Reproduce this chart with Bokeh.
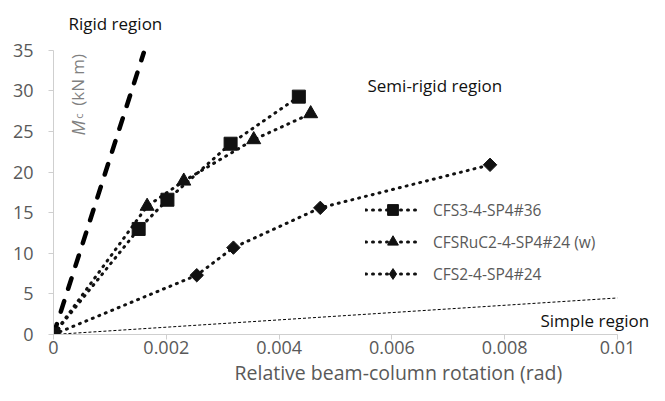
import math
from bokeh.plotting import figure
from bokeh.models import (Label, Legend, LegendItem, CustomJSTickFormatter,
                          Range1d, FixedTicker, Title)
from bokeh.embed import file_html
from bokeh.resources import INLINE

FONT = "Open Sans"

# ---- data ----
series_names = ["CFS3-4-SP4#36", "CFSRuC2-4-SP4#24 (w)", "CFS2-4-SP4#24"]

cfs3_x = [0.0, 0.00151, 0.00202, 0.00314, 0.00435]
cfs3_y = [0.0, 13.0, 16.6, 23.5, 29.3]

cfsruc_x = [0.0, 0.00166, 0.00231, 0.00355, 0.00456]
cfsruc_y = [0.0, 15.8, 18.9, 24.0, 27.2]

cfs2_x = [0.0, 0.00254, 0.00319, 0.00473, 0.00774]
cfs2_y = [0.0, 7.3, 10.7, 15.6, 20.9]

rigid_x = [0.0, 0.0016]
rigid_y = [0.0, 34.7]

simple_x = [0.0, 0.01]
simple_y = [0.0, 4.5]

x_ticks = [0, 0.002, 0.004, 0.006, 0.008, 0.01]
y_ticks = [0, 5, 10, 15, 20, 25, 30, 35]

region_texts = ["Rigid region", "Semi-rigid region", "Simple region"]
x_title = "Relative beam-column rotation (rad)"

# ---- layout (pixels) ----
W, H = 649, 385
LEFT = 53            # frame left
BOTTOM_PX = 335      # pixel row of y = 0
TOP35_PX = 50        # pixel row of y = 35
X01_PX = 617         # pixel column of x = 0.01

x_end = 0.01 * (W - LEFT) / (X01_PX - LEFT)
y_end = 35.0 * BOTTOM_PX / (BOTTOM_PX - TOP35_PX)

p = figure(width=W, height=H, output_backend="svg", toolbar_location=None,
           x_range=Range1d(0, x_end), y_range=Range1d(0, y_end),
           min_border_left=LEFT, min_border_right=0, min_border_top=0,
           min_border_bottom=H - BOTTOM_PX)
p.outline_line_color = None
p.xgrid.visible = False
p.ygrid.visible = False
p.background_fill_color = "white"
p.border_fill_color = "white"

AX = "#cfcfcf"
TXT = "#595959"
for ax in (p.xaxis[0], p.yaxis[0]):
    ax.axis_line_color = AX
    ax.major_tick_line_color = AX
    ax.minor_tick_line_color = None
    ax.major_tick_in = 0
    ax.major_tick_out = 5
    ax.major_label_text_font = FONT
    ax.major_label_text_font_size = "18px"
    ax.major_label_text_color = TXT

p.xaxis.ticker = FixedTicker(ticks=x_ticks)
p.yaxis.ticker = FixedTicker(ticks=y_ticks)
p.xaxis.bounds = (0, 0.01)
p.yaxis.bounds = (0, 35)
p.xaxis.formatter = CustomJSTickFormatter(
    code="return tick === 0 ? '0' : String(parseFloat(tick.toFixed(3)));")
p.xaxis.major_label_standoff = 1
p.yaxis.major_label_standoff = 15

# x-axis title as a title below the axis
p.add_layout(Title(text=x_title, align="left", offset=181, standoff=0,
                   text_font=FONT, text_font_size="19.5px", text_color=TXT,
                   text_font_style="normal", vertical_align="bottom"), "below")

# reference lines
p.line(simple_x, simple_y, line_color="black", line_width=1, line_dash="3 2")
p.line(rigid_x, rigid_y, line_color="black", line_width=4.5, line_dash="11 13",
       line_cap="round")

DOT = dict(line_color="#111111", line_width=3, line_dash="1 6", line_cap="round")
MK = "#111111"

l1 = p.line(cfs3_x, cfs3_y, **DOT)
l2 = p.line(cfsruc_x, cfsruc_y, **DOT)
l3 = p.line(cfs2_x, cfs2_y, **DOT)
s1 = p.scatter(cfs3_x, cfs3_y, marker="square", size=13, fill_color=MK, line_color=MK)
s2 = p.scatter(cfsruc_x, cfsruc_y, marker="triangle", size=14, fill_color=MK, line_color=MK)
# diamond glyph used for the legend symbol (hidden under the rotated squares)
s3_leg = p.scatter(cfs2_x, cfs2_y, marker="diamond", size=10, fill_color=MK, line_color=MK)
s3 = p.scatter(cfs2_x, cfs2_y, marker="square", angle=math.pi / 4, size=9.5,
               fill_color=MK, line_color=MK)

legend = Legend(items=[LegendItem(label=series_names[0], renderers=[l1, s1]),
                       LegendItem(label=series_names[1], renderers=[l2, s2]),
                       LegendItem(label=series_names[2], renderers=[l3, s3_leg])],
                location=(312, 47), orientation="vertical",
                padding=0, margin=0, spacing=5,
                glyph_width=55, glyph_height=27, label_height=27,
                label_standoff=13,
                label_text_font=FONT, label_text_font_size="15.5px",
                label_text_color=TXT,
                border_line_color=None, background_fill_alpha=0)
p.add_layout(legend)

# ---- positions of texts, in the chart's data units ----
def dx(px):
    return (px - 53) / 56400.0

def dy(py):
    return (339 - py) / 8.2

TXT_DARK = "#111111"
p.add_layout(Label(x=dx(68), y=dy(25), text=region_texts[0], text_font=FONT,
                   text_font_size="17px", text_color=TXT_DARK,
                   text_baseline="alphabetic", text_align="left"))
p.add_layout(Label(x=dx(367), y=dy(87), text=region_texts[1], text_font=FONT,
                   text_font_size="17px", text_color=TXT_DARK,
                   text_baseline="alphabetic", text_align="left"))
p.add_layout(Label(x=dx(540), y=dy(325), text=region_texts[2], text_font=FONT,
                   text_font_size="17px", text_color=TXT_DARK,
                   text_baseline="alphabetic", text_align="left"))

# y-axis title: M (italic) + subscript c + (kN m), rotated
YL = "#808080"
p.add_layout(Label(x=dx(77), y=dy(138), text="M", text_font=FONT,
                   text_font_style="italic", text_font_size="18px",
                   text_color=YL, angle=math.pi / 2,
                   text_baseline="alphabetic", text_align="left"))
p.add_layout(Label(x=dx(78), y=dy(121), text="c", text_font=FONT,
                   text_font_size="11px", text_color=YL, angle=math.pi / 2,
                   text_baseline="alphabetic", text_align="left"))
p.add_layout(Label(x=dx(77), y=dy(108), text="(kN m)", text_font=FONT,
                   text_font_size="17px", text_color=YL, angle=math.pi / 2,
                   text_baseline="alphabetic", text_align="left"))

open("out.html", "w").write(file_html(p, INLINE))
